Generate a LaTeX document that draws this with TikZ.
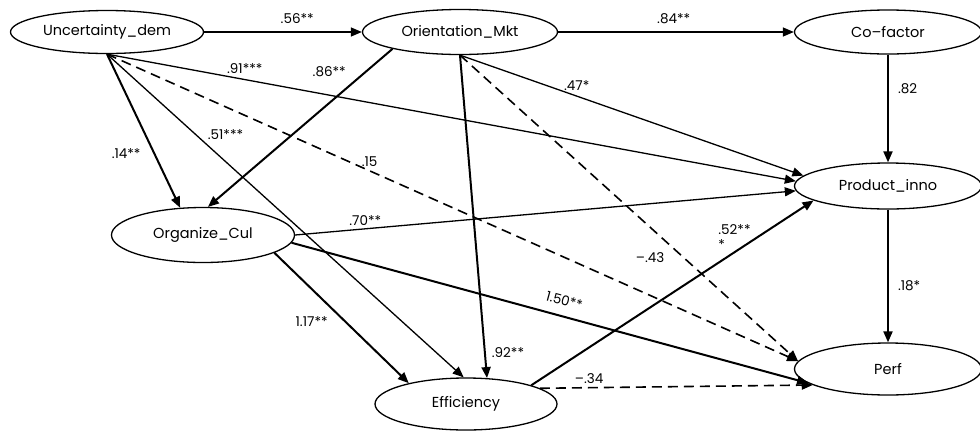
\documentclass[tikz,border=0pt]{standalone}
\usepackage{fontspec}
\setmainfont{Poppins}
\usetikzlibrary{shapes.geometric,arrows.meta}

\begin{document}
\begin{tikzpicture}[x=1pt,y=-1pt,
  >={Stealth[inset=0pt,length=11pt,width=9pt]},
  lv/.style={ellipse,draw,line width=1.3pt,inner sep=0pt,font=\fontsize{14.5}{16}\selectfont},
  lbl/.style={font=\fontsize{13.5}{15}\selectfont,inner sep=2pt},
  thn/.style={line width=1.3pt},
  thk/.style={line width=2pt},
  dsh/.style={line width=1.6pt,dash pattern=on 10pt off 6pt}]
  \useasboundingbox (0,0) rectangle (980,432);
  \node[lv,minimum width=193pt,minimum height=43pt] (ud) at (107,32) {Uncertainty\_dem};
  \node[lv,minimum width=195pt,minimum height=45pt] (om) at (460,32) {Orientation\_Mkt};
  \node[lv,minimum width=187pt,minimum height=44pt] (cf) at (888,32) {Co--factor};
  \node[lv,minimum width=187pt,minimum height=46pt] (pi) at (888,186) {Product\_inno};
  \node[lv,minimum width=183pt,minimum height=55pt] (oc) at (203,235) {Organize\_Cul};
  \node[lv,minimum width=182pt,minimum height=52pt] (ef) at (466,404) {Efficiency};
  \node[lv,minimum width=187pt,minimum height=52pt] (pf) at (888,369) {Perf};
  % thin paths
  \path[->,thn]
    (ud.east) edge node[lbl,pos=.59,above=6pt] {.56**} (om.west)
    (om.east) edge node[lbl,pos=.49,above=6pt] {.84**} (cf.west)
    (ud.south) edge node[lbl,pos=.2,above=3pt] {.91***} (pi.177)
    (ud.south) edge node[lbl,pos=.25,right=9pt] {.51***} (ef.95)
    (om.south) edge node[lbl,pos=.34,above=3pt] {.47*} (pi.173)
    (oc.east) edge node[lbl,pos=.14,above=1pt] {.70**} (pi.183);
  % thick paths
  \path[->,thk]
    (cf.south) edge node[lbl,pos=.32,right=7pt] {.82} (pi.north)
    (pi.south) edge node[lbl,pos=.57,right=7pt] {.18*} (pf.north)
    (ud.south) edge node[lbl,pos=.65,left=11pt] {.14**} (oc.130)
    (om.194) edge node[lbl,pos=.145,left=17pt] {.86**} (oc.80)
    (om.south) edge node[lbl,pos=.92,right=4pt] {.92**} (ef.51)
    (oc.-5) edge node[lbl,pos=.52,above=8pt,sloped] {1.50**} (pf.190)
    (oc.-14) edge node[lbl,pos=.53,left=15pt] {1.17**} (ef.160)
    (ef.16.5) edge node[lbl,pos=.72,above=0pt,align=left] {.52**\\*} (pi.191);
  % non-significant paths
  \path[->,dsh]
    (ud.south) edge node[lbl,pos=.38,above=1pt] {.15} (pf.175)
    (om.south) edge node[lbl,pos=.66,left=16pt] {--.43} (pf.175)
    (ef.12) edge node[lbl,pos=.18,above=1pt] {--.34} (pf.192);
\end{tikzpicture}
\end{document}
